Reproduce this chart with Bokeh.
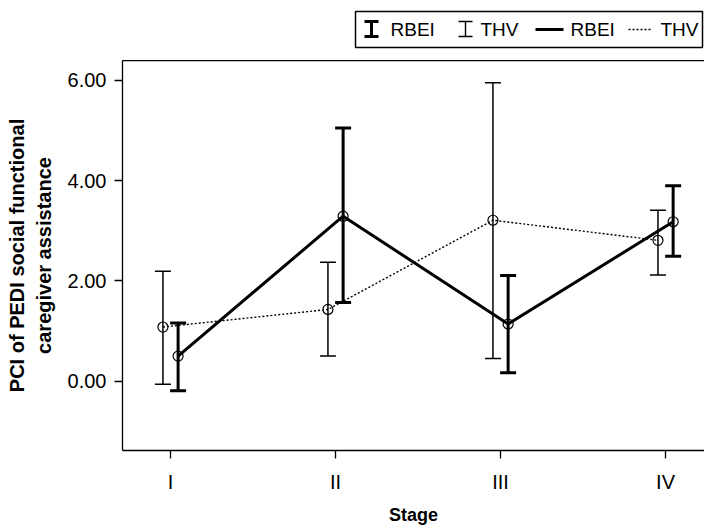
import numpy as np
from bokeh.plotting import figure
from bokeh.models import (ColumnDataSource, Whisker, TeeHead, FixedTicker,
                          NumeralTickFormatter, Range1d, LinearAxis)
from bokeh.layouts import column
from bokeh.embed import file_html
from bokeh.resources import INLINE
from bokeh.core.properties import value

# ---- data ----
stages = ["I", "II", "III", "IV"]
rbei_mean = [0.50, 3.29, 1.14, 3.18]
rbei_lower = [-0.19, 1.57, 0.17, 2.49]
rbei_upper = [1.16, 5.05, 2.11, 3.90]
thv_mean = [1.08, 1.43, 3.21, 2.81]
thv_lower = [-0.06, 0.50, 0.45, 2.12]
thv_upper = [2.19, 2.37, 5.95, 3.41]
y_ticks = [0, 2, 4, 6]
legend_labels = ["RBEI", "THV", "RBEI", "THV"]

FONT = "Liberation Sans"
pos = np.arange(1, len(stages) + 1)
dodge = 0.046

rbei_src = ColumnDataSource(dict(x=pos + dodge, y=rbei_mean, lo=rbei_lower, up=rbei_upper))
thv_src = ColumnDataSource(dict(x=pos - dodge, y=thv_mean, lo=thv_lower, up=thv_upper))

# ---- main plot ----
p = figure(width=704, height=467, x_range=Range1d(0.709, 4.236),
           y_range=Range1d(-1.383, 6.396), output_backend="svg",
           toolbar_location=None, min_border_left=122, min_border_right=0,
           min_border_top=0, min_border_bottom=74)
p.outline_line_color = None
p.grid.grid_line_color = None
p.background_fill_color = "white"
p.border_fill_color = "white"

p.line("x", "y", source=thv_src, line_color="black", line_width=1.4, line_dash="2 2")
p.line("x", "y", source=rbei_src, line_color="black", line_width=3)

p.add_layout(Whisker(source=thv_src, base="x", upper="up", lower="lo",
                     line_color="black", line_width=1.5,
                     upper_head=TeeHead(size=16, line_width=1.5, line_color="black"),
                     lower_head=TeeHead(size=16, line_width=1.5, line_color="black")))
p.add_layout(Whisker(source=rbei_src, base="x", upper="up", lower="lo",
                     line_color="black", line_width=3,
                     upper_head=TeeHead(size=16, line_width=3, line_color="black"),
                     lower_head=TeeHead(size=16, line_width=3, line_color="black")))

p.scatter("x", "y", source=thv_src, marker="circle", size=10, fill_color=None,
          line_color="black", line_width=1.2)
p.scatter("x", "y", source=rbei_src, marker="circle", size=10, fill_color=None,
          line_color="black", line_width=1.2)

p.xaxis.ticker = FixedTicker(ticks=list(pos))
p.xaxis.major_label_overrides = {int(k): s for k, s in zip(pos, stages)}
p.yaxis.ticker = FixedTicker(ticks=y_ticks)
p.yaxis.formatter = NumeralTickFormatter(format="0.00")

for ax in (p.xaxis[0], p.yaxis[0]):
    ax.axis_line_color = "black"
    ax.axis_line_width = 1.3
    ax.major_tick_line_color = "black"
    ax.major_tick_line_width = 1.3
    ax.major_tick_out = 8
    ax.major_tick_in = 0
    ax.minor_tick_line_color = None
    ax.major_label_text_font = FONT
    ax.major_label_text_font_size = "20px"
    ax.major_label_text_color = "black"
    ax.axis_label_text_font = FONT
    ax.axis_label_text_font_style = "bold"
    ax.axis_label_text_color = "black"

p.xaxis.axis_label = "Stage"
p.xaxis.axis_label_text_font_size = "18px"
p.yaxis.axis_label = "PCI of PEDI social functional\ncaregiver assistance"
p.yaxis.axis_label_text_font_size = "20px"
p.xaxis.major_label_standoff = 12
p.xaxis.axis_label_standoff = 9
p.yaxis.major_label_standoff = 8
p.yaxis.axis_label_standoff = 10

top = LinearAxis(ticker=FixedTicker(ticks=[]), major_label_text_font_size="0px",
                 major_tick_out=0, major_tick_in=0, minor_tick_out=0,
                 axis_line_color="black", axis_line_width=1.3)
p.add_layout(top, "above")

# ---- legend strip (page pixel coordinates; frame aligned with main frame 122..704) ----
lg = figure(width=704, height=60, x_range=Range1d(122, 704), y_range=Range1d(60, 0),
            output_backend="svg", toolbar_location=None, min_border=0,
            min_border_left=122)
lg.axis.visible = False
lg.grid.grid_line_color = None
lg.outline_line_color = None

lg.quad(left=[355], right=[702], top=[11], bottom=[47], fill_color=None,
        line_color="black", line_width=1.5)
# thick I-beam
lg.segment(x0=[371, 364, 364], y0=[21, 21, 36], x1=[371, 378, 378], y1=[36, 21, 36],
           line_color="black", line_width=3)
# thin I-beam
lg.segment(x0=[465, 458, 458], y0=[21, 21, 36], x1=[465, 472, 472], y1=[36, 21, 36],
           line_color="black", line_width=1.4)
lg.segment(x0=[535], y0=[29], x1=[563], y1=[29], line_color="black", line_width=3)
lg.segment(x0=[628], y0=[29], x1=[652], y1=[29], line_color="black", line_width=1.4,
           line_dash="2 2")
lg.text(x=[390, 480, 570, 660], y=[29, 29, 29, 29], text=legend_labels,
        text_font=value(FONT), text_font_size="19px", text_baseline="middle",
        text_align="left", text_color="black")

layout = column(lg, p, spacing=0)
open("out.html", "w").write(file_html(layout, INLINE))
